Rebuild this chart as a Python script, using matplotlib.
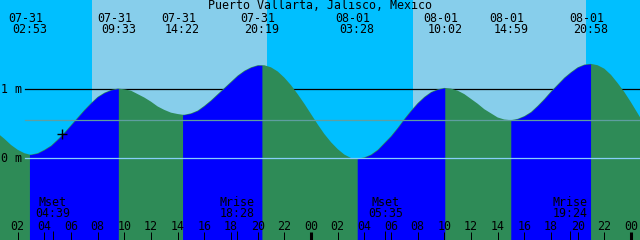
import matplotlib
matplotlib.use('Agg')
import numpy as np
from matplotlib import pyplot as plt
from matplotlib import transforms

# tide height (m) every half hour, hour 0 = 07-31 00:00
hours = [k / 2 for k in range(0, 99)]
tide_m = [0.45, 0.36, 0.28, 0.19, 0.12, 0.07, 0.05, 0.07, 0.12, 0.18,
          0.27, 0.37, 0.48, 0.59, 0.70, 0.80, 0.89, 0.95, 0.99, 1.01,
          1.00, 0.98, 0.93, 0.88, 0.82, 0.75, 0.70, 0.66, 0.64, 0.63,
          0.65, 0.69, 0.76, 0.84, 0.93, 1.02, 1.11, 1.20, 1.27, 1.32,
          1.35, 1.35, 1.32, 1.26, 1.17, 1.06, 0.93, 0.79, 0.64, 0.49,
          0.35, 0.23, 0.13, 0.05, 0.00, -0.01, 0.01, 0.05, 0.12, 0.22,
          0.32, 0.44, 0.57, 0.69, 0.80, 0.89, 0.96, 1.00, 1.02, 1.01,
          0.98, 0.93, 0.86, 0.79, 0.71, 0.65, 0.59, 0.56, 0.55, 0.57,
          0.61, 0.67, 0.76, 0.86, 0.97, 1.07, 1.17, 1.25, 1.32, 1.36,
          1.37, 1.35, 1.30, 1.21, 1.09, 0.96, 0.81, 0.65, 0.49]

# highs and lows
ext_stamps = ['07-31 02:53', '07-31 09:33', '07-31 14:22', '07-31 20:19',
              '08-01 03:28', '08-01 10:02', '08-01 14:59', '08-01 20:58']
ext_m = [0.05, 1.01, 0.63, 1.35, -0.01, 1.02, 0.55, 1.37]

sunrise = ['07-31 07:34', '08-01 07:38']
sunset = ['07-31 20:42', '08-01 20:37']

moon_names = ['Mset', 'Mrise', 'Mset', 'Mrise']
moon_stamps = ['07-31 04:39', '07-31 18:28', '08-01 05:35', '08-01 19:24']

now_stamp = '07-31 05:18'
now_m = 0.35

title = 'Puerto Vallarta, Jalisco, Mexico'


def to_hours(stamp):
    day, hm = stamp.split()
    h, m = hm.split(':')
    return (0 if day == '07-31' else 24) + int(h) + int(m) / 60.0


W, H = 640, 240
PX_HOUR = 320 / 24.0
MIDNIGHT_PX = 311
ZERO_PX, METRE_PX = 158, 68.7
t0 = 24 - MIDNIGHT_PX / PX_HOUR

NIGHT = '#00BFFF'
DAY = '#87CEEB'
RISING = '#0000FF'
FALLING = '#2E8B57'

plt.rcParams['font.family'] = 'DejaVu Sans Mono'
plt.rcParams['font.size'] = 8.4

fig = plt.figure(figsize=(W / 100, H / 100), dpi=100)
ax = fig.add_axes([0, 0, 1, 1])
ax.set_xlim(t0, t0 + W / PX_HOUR)
ax.set_ylim(-(H - ZERO_PX) / METRE_PX, ZERO_PX / METRE_PX)
ax.axis('off')
blend = transforms.blended_transform_factory(ax.transData, fig.transFigure)


def fy(ypx):
    return 1 - ypx / H


# sky
rise_h = [to_hours(s) for s in sunrise]
set_h = [to_hours(s) for s in sunset]
ax.axvspan(t0 - 1, t0 + 50, color=NIGHT, lw=0, zorder=0)
for a, b in zip(rise_h, set_h):
    ax.axvspan(a, b, color=DAY, lw=0, zorder=0)

# 1 m line sits behind the water
ax.axhline(1, xmin=25 / W, color='black', lw=0.9, zorder=1)

# water: green when falling, blue when rising
ext_h = [to_hours(s) for s in ext_stamps]
t = np.array(hours + ext_h, dtype=float)
h = np.array(tide_m + ext_m)
order = np.argsort(t)
t, h = t[order], h[order]
ymin = ax.get_ylim()[0]
ax.fill_between(t, h, ymin, color=FALLING, lw=0, zorder=2)
bounds = [hours[0]] + ext_h + [hours[-1]]
for a, b in zip(bounds[:-1], bounds[1:]):
    m = (t >= a) & (t <= b)
    if h[m][-1] > h[m][0]:
        ax.fill_between(t[m], h[m], ymin, color=RISING, lw=0, zorder=3)

# datum and mean level lines
ax.axhline(0, xmin=25 / W, color='#87CEFA', lw=0.9, zorder=4)
ax.axhline(0.55, xmin=25 / W, color='#5F9EA0', lw=0.9, zorder=4)

ax.plot(to_hours(now_stamp), now_m, marker='+', color='black', ms=7, mew=1.0, zorder=5)

# texts
fig.text(0.5, fy(9), title, ha='center', va='baseline')
for stamp, x in zip(ext_stamps, ext_h):
    day, hm = stamp.split()
    ax.text(x - 0.3, fy(22), day, ha='center', va='baseline', transform=blend)
    ax.text(x, fy(33), hm, ha='center', va='baseline', transform=blend)

fig.text(1 / W, fy(93), '1 m', ha='left', va='baseline')
fig.text(1 / W, fy(162), '0 m', ha='left', va='baseline')

for name, stamp in zip(moon_names, moon_stamps):
    x = to_hours(stamp)
    ax.text(x, fy(206), name, ha='center', va='baseline', transform=blend)
    ax.text(x, fy(217), stamp.split()[1], ha='center', va='baseline', transform=blend)
    ax.vlines(x, fy(H), fy(231), colors='black', lw=0.72, transform=blend, zorder=6)

for hr in range(2, 50, 2):
    ax.text(hr, fy(230), '%02d' % (hr % 24), ha='center', va='baseline', transform=blend)
    lw = 2.2 if hr % 24 == 0 else 0.72
    ax.vlines(hr, fy(H), fy(232), colors='black', lw=lw, transform=blend, zorder=6)

fig.savefig('out.png', dpi=100)
